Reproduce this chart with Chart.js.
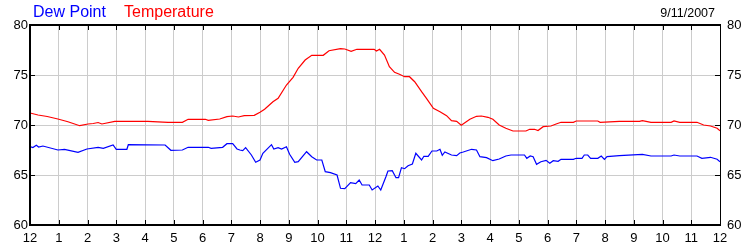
<!DOCTYPE html>
<html>
<head>
<meta charset="utf-8">
<script src="https://cdn.jsdelivr.net/npm/chart.js@4"></script>
<style>
html,body{margin:0;padding:0;background:#fff;}
canvas{display:block;}
</style>
</head>
<body>
<canvas id="c" width="750" height="250"></canvas>
<script>
const hourLabels = ["12","1","2","3","4","5","6","7","8","9","10","11","12","1","2","3","4","5","6","7","8","9","10","11","12"];
const yTicks = [60, 65, 70, 75, 80];
const chartDate = "9/11/2007";

const tempTimes = [0.0,0.28,0.6,0.97,1.32,1.73,2.02,2.2,2.37,2.5,2.95,4.1,4.8,5.3,5.5,6.1,6.2,6.6,6.85,7.05,7.25,7.45,7.8,8.0,8.16,8.45,8.63,8.92,9.15,9.33,9.57,9.8,10.2,10.4,10.8,10.95,11.17,11.37,11.97,12.05,12.16,12.33,12.5,12.68,12.85,13.03,13.2,13.38,13.62,13.79,14.03,14.26,14.49,14.66,14.84,15.0,15.3,15.53,15.7,15.93,16.1,16.32,16.55,16.8,17.25,17.38,17.55,17.67,17.85,18.12,18.3,18.47,18.9,19.0,19.75,19.83,20.5,21.2,21.3,21.6,22.3,22.4,22.6,23.2,23.43,23.67,23.9,24.0];
const tempValues = [71.2,71.0,70.85,70.6,70.33,69.93,70.1,70.15,70.25,70.1,70.37,70.37,70.27,70.27,70.57,70.57,70.47,70.6,70.83,70.9,70.8,70.93,70.97,71.27,71.57,72.33,72.67,74.0,74.77,75.67,76.5,76.97,76.97,77.43,77.63,77.6,77.37,77.57,77.57,77.4,77.57,77.0,75.83,75.27,75.07,74.83,74.83,74.33,73.33,72.67,71.67,71.33,70.93,70.43,70.37,69.97,70.57,70.87,70.9,70.77,70.57,70.0,69.67,69.4,69.4,69.57,69.57,69.45,69.83,69.9,70.1,70.27,70.27,70.4,70.4,70.27,70.37,70.37,70.43,70.27,70.27,70.4,70.27,70.27,70.0,69.9,69.67,69.43];

const dewTimes = [0.0,0.1,0.22,0.3,0.45,0.97,1.2,1.67,1.98,2.37,2.55,2.89,3.0,3.37,3.42,4.7,4.9,5.3,5.5,6.2,6.3,6.7,6.85,7.05,7.2,7.3,7.4,7.5,7.7,7.85,8.0,8.1,8.4,8.48,8.63,8.75,8.92,9.03,9.21,9.33,9.62,9.8,9.97,10.15,10.27,10.45,10.68,10.8,10.95,11.15,11.33,11.45,11.55,11.8,11.9,12.1,12.2,12.38,12.45,12.6,12.73,12.82,12.92,13.03,13.15,13.3,13.42,13.62,13.7,13.85,13.98,14.15,14.26,14.34,14.43,14.66,14.84,14.95,15.07,15.36,15.53,15.65,15.88,16.1,16.32,16.55,16.73,17.2,17.28,17.4,17.5,17.62,17.77,17.95,18.08,18.2,18.37,18.47,18.9,19.0,19.2,19.28,19.4,19.5,19.75,19.87,19.98,20.07,20.5,21.3,21.6,22.3,22.4,22.6,23.2,23.37,23.67,23.9,24.0];
const dewValues = [67.83,67.75,67.97,67.8,67.9,67.5,67.57,67.27,67.6,67.77,67.67,68.0,67.57,67.57,68.03,68.0,67.47,67.5,67.77,67.77,67.67,67.77,68.13,68.13,67.6,67.5,67.43,67.73,67.0,66.27,66.5,67.17,68.03,67.6,67.73,67.6,67.83,67.07,66.27,66.33,67.33,66.83,66.5,66.5,65.33,65.23,65.0,63.67,63.63,64.23,64.13,64.5,64.0,64.0,63.5,63.9,63.5,64.83,65.4,65.43,64.73,64.73,65.73,65.63,65.93,66.1,67.17,66.5,66.87,66.87,67.4,67.4,67.57,66.97,67.3,67.0,66.93,67.2,67.3,67.57,67.5,66.83,66.73,66.43,66.6,66.9,67.0,67.0,66.67,66.9,66.83,66.07,66.33,66.47,66.17,66.43,66.37,66.57,66.57,66.67,66.67,67.0,67.0,66.67,66.67,66.9,66.57,66.83,66.93,67.07,66.9,66.9,67.0,66.9,66.9,66.67,66.77,66.57,66.33];

const FONT = "'Liberation Sans', Arial, sans-serif";

const framePlugin = {
  id: 'frame',
  afterDraw(chart) {
    const ctx = chart.ctx;
    const a = chart.chartArea;
    const x = chart.scales.x, y = chart.scales.y;
    ctx.save();
    ctx.strokeStyle = '#000';
    ctx.lineWidth = 1;
    ctx.beginPath();
    for (let h = 1; h < hourLabels.length - 1; h++) {
      const px = Math.round(x.getPixelForValue(h)) + 0.5;
      ctx.moveTo(px, a.top); ctx.lineTo(px, a.top + 5);
      ctx.moveTo(px, a.bottom); ctx.lineTo(px, a.bottom - 5);
    }
    for (let i = 1; i < yTicks.length - 1; i++) {
      const py = Math.round(y.getPixelForValue(yTicks[i])) + 0.5;
      ctx.moveTo(a.left, py); ctx.lineTo(a.left + 5, py);
      ctx.moveTo(a.right, py); ctx.lineTo(a.right - 5, py);
    }
    ctx.stroke();
    ctx.lineWidth = 2;
    ctx.beginPath();
    ctx.moveTo(a.right, a.top);
    ctx.lineTo(a.left, a.top);
    ctx.lineTo(a.left, a.bottom);
    ctx.lineTo(a.right, a.bottom);
    ctx.stroke();
    ctx.lineWidth = 1;
    ctx.beginPath();
    ctx.moveTo(a.right + 0.5, a.top - 1);
    ctx.lineTo(a.right + 0.5, a.bottom + 1);
    ctx.stroke();
    ctx.textBaseline = 'alphabetic';
    ctx.font = '16px ' + FONT;
    ctx.textAlign = 'left';
    ctx.fillStyle = '#0000ff';
    ctx.fillText(chart.data.datasets[0].label, 33, 17);
    ctx.fillStyle = '#ff0000';
    ctx.fillText(chart.data.datasets[1].label, 124, 17);
    ctx.font = '12.5px ' + FONT;
    ctx.fillStyle = '#000';
    ctx.textAlign = 'right';
    ctx.fillText(chartDate, 715, 17);
    ctx.restore();
  }
};

new Chart(document.getElementById('c'), {
  type: 'line',
  data: {
    datasets: [
      {
        label: 'Dew Point',
        data: dewTimes.map((t, i) => ({x: t, y: dewValues[i]})),
        borderColor: '#0000ff',
        borderWidth: 1.2,
        pointRadius: 0,
        tension: 0,
        fill: false
      },
      {
        label: 'Temperature',
        data: tempTimes.map((t, i) => ({x: t, y: tempValues[i]})),
        borderColor: '#ff0000',
        borderWidth: 1.2,
        pointRadius: 0,
        tension: 0,
        fill: false
      }
    ]
  },
  options: {
    responsive: false,
    animation: false,
    devicePixelRatio: 1,
    layout: { padding: { top: 25, left: 0, right: 0, bottom: 0 } },
    plugins: { legend: { display: false }, tooltip: { enabled: false }, title: { display: false } },
    scales: {
      x: {
        type: 'linear',
        min: 0, max: hourLabels.length - 1,
        afterFit(s) { s.height = 25; },
        afterBuildTicks(s) { s.ticks = hourLabels.map((_, i) => ({value: i})); },
        ticks: {
          autoSkip: false, maxRotation: 0, padding: 6,
          color: '#000', font: { family: FONT, size: 13 },
          callback: (v) => hourLabels[v]
        },
        grid: { color: '#cccccc', drawTicks: false, lineWidth: 1 },
        border: { display: false }
      },
      y: {
        position: 'left',
        min: yTicks[0], max: yTicks[yTicks.length - 1],
        afterFit(s) { s.width = 30; },
        afterBuildTicks(s) { s.ticks = yTicks.map(v => ({value: v})); },
        ticks: { padding: 2, color: '#000', font: { family: FONT, size: 13 } },
        grid: { color: '#cccccc', drawTicks: false, lineWidth: 1 },
        border: { display: false }
      },
      y2: {
        position: 'right',
        min: yTicks[0], max: yTicks[yTicks.length - 1],
        afterFit(s) { s.width = 30; },
        afterBuildTicks(s) { s.ticks = yTicks.map(v => ({value: v})); },
        ticks: { padding: 7, color: '#000', font: { family: FONT, size: 13 } },
        grid: { display: false, drawTicks: false },
        border: { display: false }
      }
    }
  },
  plugins: [framePlugin]
});
</script>
</body>
</html>
